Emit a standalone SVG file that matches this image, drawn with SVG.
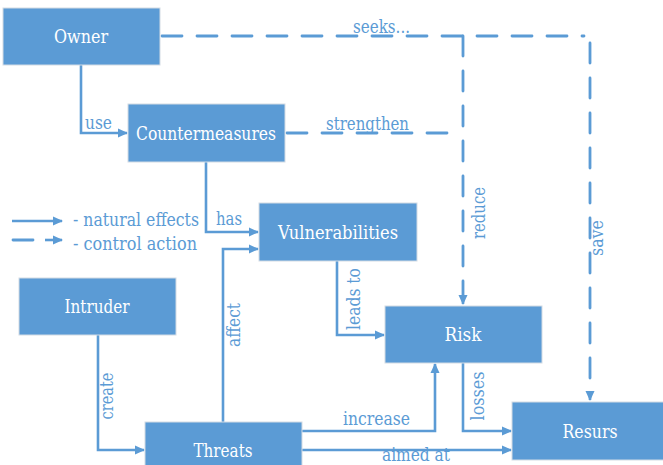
<svg xmlns="http://www.w3.org/2000/svg" width="663" height="465" viewBox="0 0 663 465">
<defs>
<style>
.box{fill:#5B9BD5;stroke:#d3dbe4;stroke-width:1}
.bt{fill:#fff;text-anchor:middle;dominant-baseline:central}
.lb{fill:#5B9BD5}
.ln{fill:none;stroke:#5B9BD5;stroke-width:2.6;stroke-linejoin:miter}
.ds{fill:none;stroke:#5B9BD5;stroke-width:2.8;stroke-dasharray:20 15;stroke-linecap:round}
</style>
<marker id="ah" markerUnits="userSpaceOnUse" markerWidth="10" markerHeight="10" refX="9" refY="5" orient="auto">
<path d="M0,0.5 L10,5 L0,9.5 z" fill="#5B9BD5"/>
</marker>
</defs>
<rect width="663" height="465" fill="#fff"/>
<g id="connectors">
<path class="ln" d="M81,65 V133 H127" marker-end="url(#ah)"/>
<path class="ln" d="M206,162 V232 H258" marker-end="url(#ah)"/>
<path class="ln" d="M223,422 V249 H258" marker-end="url(#ah)"/>
<path class="ln" d="M337,261 V335 H384" marker-end="url(#ah)"/>
<path class="ln" d="M302,431 H435 V364" marker-end="url(#ah)"/>
<path class="ln" d="M302,450 H511" marker-end="url(#ah)"/>
<path class="ln" d="M463,363 V431 H511" marker-end="url(#ah)"/>
<path class="ln" d="M98,335 V450 H144" marker-end="url(#ah)"/>
<path class="ds" d="M162,36 H584"/>
<path class="ds" d="M590,43 V393"/>
<path class="ln" d="M590,393 V400" marker-end="url(#ah)"/>
<path class="ds" d="M463,36 V297"/>
<path class="ln" d="M463,296 V304" marker-end="url(#ah)"/>
<path class="ds" d="M287,133 H453"/>
<path class="ln" d="M12,221 H62" stroke-width="2" marker-end="url(#ah)"/>
<path class="ds" d="M13,240 H37" stroke-dasharray="none"/>
<path class="ln" d="M45,240 H62" marker-end="url(#ah)"/>
<g font-family="DejaVu Serif, serif" font-size="18" lengthAdjust="spacingAndGlyphs">
<text class="lb" x="85" y="129" textLength="27" lengthAdjust="spacingAndGlyphs">use</text>
<text class="lb" x="326" y="130" textLength="83" lengthAdjust="spacingAndGlyphs">strengthen</text>
<text class="lb" x="353" y="33" textLength="57" lengthAdjust="spacingAndGlyphs">seeks...</text>
<text class="lb" x="216" y="225" textLength="26" lengthAdjust="spacingAndGlyphs">has</text>
<text class="lb" x="343" y="425" textLength="67" lengthAdjust="spacingAndGlyphs">increase</text>
<text class="lb" x="382" y="461" textLength="68" lengthAdjust="spacingAndGlyphs">aimed at</text>
<text class="lb" transform="translate(485,213) rotate(-90)" text-anchor="middle" textLength="52" lengthAdjust="spacingAndGlyphs">reduce</text>
<text class="lb" transform="translate(603,238) rotate(-90)" text-anchor="middle" textLength="36" lengthAdjust="spacingAndGlyphs">save</text>
<text class="lb" transform="translate(360,299) rotate(-90)" text-anchor="middle" textLength="62" lengthAdjust="spacingAndGlyphs">leads to</text>
<text class="lb" transform="translate(484,396) rotate(-90)" text-anchor="middle" textLength="49" lengthAdjust="spacingAndGlyphs">losses</text>
<text class="lb" transform="translate(113,396) rotate(-90)" text-anchor="middle" textLength="47" lengthAdjust="spacingAndGlyphs">create</text>
<text class="lb" transform="translate(240,325) rotate(-90)" text-anchor="middle" textLength="44" lengthAdjust="spacingAndGlyphs">affect</text>
<text class="lb" x="73" y="226" textLength="126" lengthAdjust="spacingAndGlyphs">- natural effects</text>
<text class="lb" x="73" y="250" textLength="124" lengthAdjust="spacingAndGlyphs">- control action</text>
</g>
</g>
<g font-family="DejaVu Serif, serif" font-size="18">
<g id="owner"><rect class="box" x="3" y="8" width="157" height="57"/><text class="bt" x="81" y="36" textLength="54" lengthAdjust="spacingAndGlyphs">Owner</text></g>
<g id="countermeasures"><rect class="box" x="128" y="104" width="157" height="58"/><text class="bt" x="206" y="133" textLength="140" lengthAdjust="spacingAndGlyphs">Countermeasures</text></g>
<g id="vulnerabilities"><rect class="box" x="259" y="203" width="158" height="58"/><text class="bt" x="338" y="232" textLength="120" lengthAdjust="spacingAndGlyphs">Vulnerabilities</text></g>
<g id="intruder"><rect class="box" x="19" y="278" width="157" height="57"/><text class="bt" x="97" y="306" textLength="65" lengthAdjust="spacingAndGlyphs">Intruder</text></g>
<g id="risk"><rect class="box" x="385" y="306" width="157" height="57"/><text class="bt" x="463" y="334" textLength="37" lengthAdjust="spacingAndGlyphs">Risk</text></g>
<g id="threats"><rect class="box" x="145" y="422" width="157" height="60"/><text class="bt" x="223" y="450" textLength="59" lengthAdjust="spacingAndGlyphs">Threats</text></g>
<g id="resurs"><rect class="box" x="512" y="402" width="157" height="58"/><text class="bt" x="590" y="431" textLength="55" lengthAdjust="spacingAndGlyphs">Resurs</text></g>
</g>
</svg>
